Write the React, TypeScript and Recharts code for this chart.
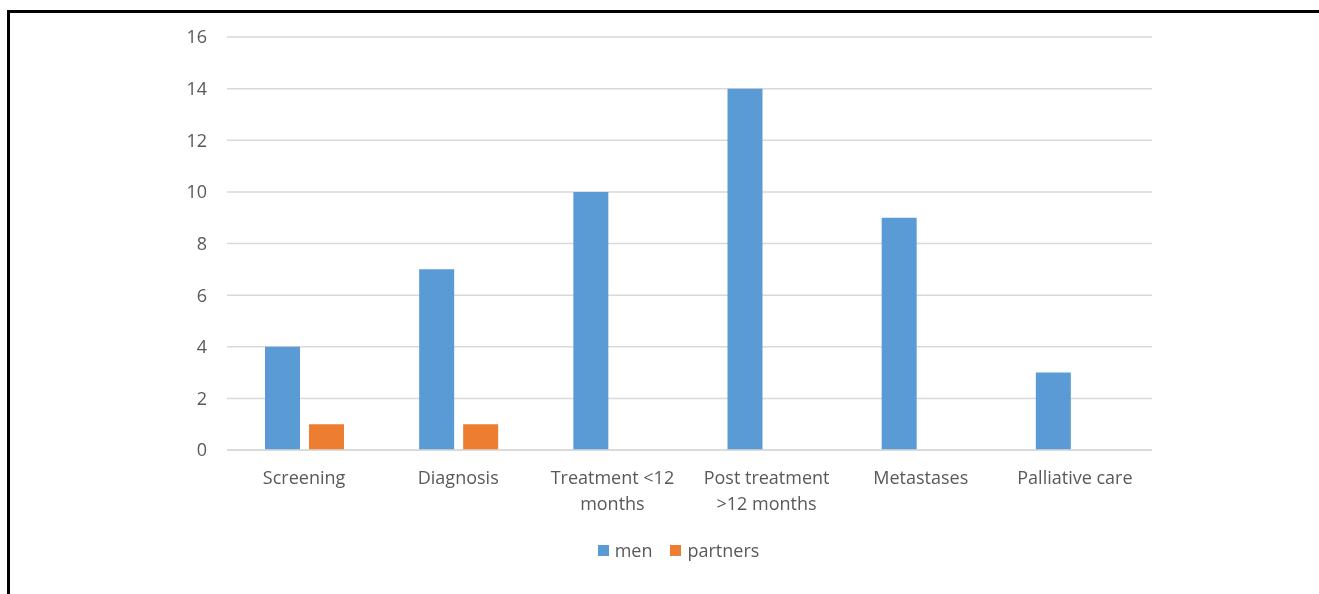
import React from "react";
import {
  BarChart,
  Bar,
  XAxis,
  YAxis,
  CartesianGrid,
} from "recharts";

const categories = [
  "Screening",
  "Diagnosis",
  "Treatment <12 months",
  "Post treatment >12 months",
  "Metastases",
  "Palliative care",
];
const menValues = [4, 7, 10, 14, 9, 3];
const partnerValues = [1, 1, 0, 0, 0, 0];
const yTicks = [0, 2, 4, 6, 8, 10, 12, 14, 16];

const SERIES = [
  { key: "men", label: "men", color: "#5b9bd5" },
  { key: "partners", label: "partners", color: "#ed7d31" },
];

const TEXT_COLOR = "#595959";
const FONT = "'Open Sans', sans-serif";

const data = categories.map((name, i) => ({
  name,
  men: menValues[i],
  partners: partnerValues[i],
}));

// wrap category names the way the original chart does (about 15 chars a line)
function wrapLabel(label: string, maxChars = 15): string[] {
  const words = label.split(" ");
  const lines: string[] = [];
  let cur = "";
  for (const w of words) {
    const next = cur ? cur + " " + w : w;
    if (next.length > maxChars && cur) {
      lines.push(cur);
      cur = w;
    } else {
      cur = next;
    }
  }
  if (cur) lines.push(cur);
  return lines;
}

function CategoryTick(props: any) {
  const { x, y, payload } = props;
  const lines = wrapLabel(String(payload.value));
  return (
    <text
      x={x}
      y={y}
      textAnchor="middle"
      fill={TEXT_COLOR}
      fontSize={18}
      fontFamily={FONT}
    >
      {lines.map((line, i) => (
        <tspan key={i} x={x} dy={i === 0 ? 26 : 26}>
          {line}
        </tspan>
      ))}
    </text>
  );
}

// legend drawn as plain html so it doesn't eat into the plot height
function ChartLegend() {
  return (
    <div
      style={{
        position: "absolute",
        left: 0,
        top: 538,
        width: 1319,
        display: "flex",
        justifyContent: "center",
        alignItems: "center",
        paddingLeft: 38,
        boxSizing: "border-box",
        fontFamily: FONT,
        fontSize: 18,
        color: TEXT_COLOR,
      }}
    >
      {SERIES.map((s, i) => (
        <div
          key={s.key}
          style={{
            display: "flex",
            alignItems: "center",
            marginRight: i < SERIES.length - 1 ? 18 : 0,
          }}
        >
          <span
            style={{
              display: "inline-block",
              width: 11,
              height: 11,
              background: s.color,
              marginRight: 6,
            }}
          />
          <span>{s.label}</span>
        </div>
      ))}
    </div>
  );
}

export default function App() {
  return (
    <div style={{ position: "fixed", left: 0, top: 0, width: 1319, height: 594 }}>
      <div
        style={{
          position: "absolute",
          left: 7,
          top: 10,
          width: 1330,
          height: 600,
          borderLeft: "3px solid #000",
          borderTop: "3px solid #000",
          boxSizing: "border-box",
        }}
      />
      <div style={{ position: "absolute", left: 0, top: 0 }}>
        <BarChart
          width={1319}
          height={594}
          data={data}
          margin={{ top: 37, right: 167, bottom: 114, left: 0 }}
          barSize={35}
          barGap={9}
        >
          <CartesianGrid
            vertical={false}
            stroke="#d9d9d9"
            strokeWidth={1.5}
          />
          <XAxis
            dataKey="name"
            height={30}
            interval={0}
            tickLine={false}
            axisLine={{ stroke: "#d9d9d9", strokeWidth: 1.5 }}
            tick={<CategoryTick />}
          />
          <YAxis
            width={227}
            domain={[0, 16]}
            ticks={yTicks}
            interval={0}
            tickLine={false}
            axisLine={false}
            tickMargin={14}
            tick={{ fill: TEXT_COLOR, fontSize: 18, fontFamily: FONT }}
          />
          {SERIES.map((s) => (
            <Bar
              key={s.key}
              dataKey={s.key}
              name={s.label}
              fill={s.color}
              isAnimationActive={false}
            />
          ))}
        </BarChart>
      </div>
      <ChartLegend />
    </div>
  );
}
